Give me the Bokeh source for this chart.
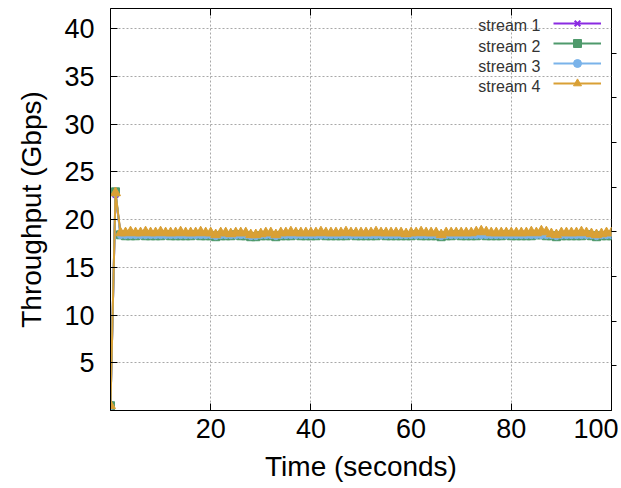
from bokeh.plotting import figure
from bokeh.models import (Range1d, LinearAxis, FixedTicker, Legend, LegendItem,
                          Label, ColumnDataSource)
from bokeh.embed import file_html
from bokeh.resources import INLINE

# ---------------- data ----------------
time_s = [0, 1, 2, 3, 4, 5, 6, 7, 8, 9,
          10, 11, 12, 13, 14, 15, 16, 17, 18, 19,
          20, 21, 22, 23, 24, 25, 26, 27, 28, 29,
          30, 31, 32, 33, 34, 35, 36, 37, 38, 39,
          40, 41, 42, 43, 44, 45, 46, 47, 48, 49,
          50, 51, 52, 53, 54, 55, 56, 57, 58, 59,
          60, 61, 62, 63, 64, 65, 66, 67, 68, 69,
          70, 71, 72, 73, 74, 75, 76, 77, 78, 79,
          80, 81, 82, 83, 84, 85, 86, 87, 88, 89,
          90, 91, 92, 93, 94, 95, 96, 97, 98, 99,
          100]

stream1 = [0.6, 22.6, 18.5, 18.4, 18.4, 18.5, 18.4, 18.4, 18.4, 18.5,
           18.4, 18.4, 18.5, 18.4, 18.4, 18.4, 18.5, 18.4, 18.4, 18.4,
           18.4, 18.3, 18.4, 18.4, 18.4, 18.4, 18.5, 18.4, 18.3, 18.3,
           18.4, 18.4, 18.4, 18.3, 18.4, 18.5, 18.4, 18.4, 18.4, 18.4,
           18.5, 18.4, 18.4, 18.4, 18.4, 18.5, 18.4, 18.4, 18.4, 18.4,
           18.4, 18.5, 18.4, 18.4, 18.4, 18.4, 18.4, 18.5, 18.4, 18.4,
           18.4, 18.4, 18.5, 18.4, 18.4, 18.4, 18.3, 18.4, 18.4, 18.4,
           18.4, 18.5, 18.4, 18.4, 18.5, 18.5, 18.4, 18.4, 18.4, 18.4,
           18.4, 18.4, 18.5, 18.4, 18.4, 18.4, 18.5, 18.5, 18.4, 18.3,
           18.4, 18.4, 18.4, 18.5, 18.4, 18.4, 18.4, 18.3, 18.4, 18.4,
           18.4]

stream2 = [0.5, 22.9, 18.4, 18.3, 18.3, 18.3, 18.4, 18.3, 18.3, 18.3,
           18.3, 18.4, 18.3, 18.3, 18.3, 18.3, 18.3, 18.4, 18.3, 18.3,
           18.3, 18.2, 18.3, 18.3, 18.3, 18.4, 18.3, 18.3, 18.2, 18.2,
           18.3, 18.3, 18.3, 18.2, 18.3, 18.3, 18.3, 18.4, 18.3, 18.3,
           18.3, 18.3, 18.4, 18.3, 18.3, 18.3, 18.3, 18.3, 18.4, 18.3,
           18.3, 18.3, 18.3, 18.3, 18.4, 18.3, 18.3, 18.3, 18.3, 18.3,
           18.3, 18.4, 18.3, 18.3, 18.3, 18.3, 18.2, 18.3, 18.3, 18.4,
           18.3, 18.3, 18.3, 18.3, 18.4, 18.3, 18.3, 18.3, 18.3, 18.4,
           18.3, 18.3, 18.3, 18.3, 18.3, 18.4, 18.4, 18.3, 18.3, 18.2,
           18.3, 18.3, 18.3, 18.3, 18.3, 18.4, 18.3, 18.2, 18.3, 18.3,
           18.3]

stream3 = [0.4, 22.7, 18.3, 18.3, 18.3, 18.3, 18.3, 18.3, 18.3, 18.3,
           18.3, 18.3, 18.3, 18.3, 18.3, 18.3, 18.3, 18.3, 18.3, 18.3,
           18.3, 18.2, 18.3, 18.3, 18.3, 18.3, 18.3, 18.3, 18.2, 18.2,
           18.3, 18.3, 18.3, 18.2, 18.3, 18.3, 18.3, 18.3, 18.3, 18.3,
           18.3, 18.3, 18.3, 18.3, 18.3, 18.3, 18.3, 18.3, 18.3, 18.3,
           18.3, 18.3, 18.3, 18.3, 18.3, 18.3, 18.3, 18.3, 18.3, 18.3,
           18.3, 18.3, 18.3, 18.3, 18.3, 18.3, 18.2, 18.3, 18.3, 18.3,
           18.3, 18.3, 18.3, 18.3, 18.3, 18.3, 18.3, 18.3, 18.3, 18.3,
           18.3, 18.3, 18.3, 18.3, 18.3, 18.3, 18.3, 18.3, 18.3, 18.2,
           18.3, 18.3, 18.3, 18.3, 18.3, 18.3, 18.3, 18.2, 18.3, 18.3,
           18.3]

stream4 = [0.5, 22.8, 18.6, 18.6, 18.7, 18.6, 18.6, 18.7, 18.6, 18.6,
           18.7, 18.6, 18.6, 18.6, 18.7, 18.6, 18.6, 18.6, 18.7, 18.6,
           18.6, 18.4, 18.6, 18.6, 18.5, 18.6, 18.6, 18.6, 18.4, 18.4,
           18.5, 18.6, 18.6, 18.4, 18.6, 18.6, 18.7, 18.6, 18.6, 18.6,
           18.6, 18.6, 18.7, 18.6, 18.6, 18.6, 18.6, 18.7, 18.6, 18.6,
           18.6, 18.6, 18.6, 18.7, 18.6, 18.6, 18.6, 18.6, 18.6, 18.5,
           18.6, 18.6, 18.7, 18.6, 18.6, 18.6, 18.4, 18.6, 18.6, 18.6,
           18.6, 18.6, 18.6, 18.7, 18.8, 18.7, 18.6, 18.6, 18.6, 18.6,
           18.6, 18.6, 18.6, 18.6, 18.7, 18.6, 18.8, 18.7, 18.5, 18.4,
           18.6, 18.6, 18.6, 18.6, 18.7, 18.6, 18.5, 18.4, 18.5, 18.6,
           18.6]

series_names = ["stream 1", "stream 2", "stream 3", "stream 4"]
series_values = [stream1, stream2, stream3, stream4]
series_colors = ["#8a2be2", "#4f9a6c", "#7ab3ea", "#d9a035"]
series_markers = ["x", "square", "circle", "triangle"]
marker_sizes = [8, 8, 6, 10]

x_ticks = [20, 40, 60, 80, 100]
y_ticks = [5, 10, 15, 20, 25, 30, 35, 40]
y2_ticks = [1, 2, 3, 4, 5, 6, 7, 8]

FONT = "Liberation Sans"

# ---------------- figure ----------------
p = figure(width=618, height=488, output_backend="svg", toolbar_location=None,
           x_range=Range1d(0, 100), y_range=Range1d(0, 42.1),
           min_border_left=110, min_border_right=7, min_border_top=8,
           min_border_bottom=78, x_axis_label="Time (seconds)",
           y_axis_label="Throughput (Gbps)")
p.background_fill_color = "white"
p.border_fill_color = "white"
p.outline_line_color = "black"
p.outline_line_width = 1

p.extra_y_ranges = {"y2": Range1d(0, 9)}

# grid
for g, t in ((p.xgrid, x_ticks), (p.ygrid, y_ticks)):
    g.ticker = FixedTicker(ticks=t)
    g.grid_line_color = "#a8a8a8"
    g.grid_line_dash = "2 2"
    g.grid_line_width = 1

xa = p.xaxis[0]
xa.ticker = FixedTicker(ticks=x_ticks)
ya = p.yaxis[0]
ya.ticker = FixedTicker(ticks=y_ticks)

for ax in (xa, ya):
    ax.major_tick_in = 7
    ax.major_tick_out = 0
    ax.minor_tick_line_color = None
    ax.major_tick_line_color = "black"
    ax.axis_line_color = "black"
    ax.major_label_text_font = FONT
    ax.major_label_text_font_size = "27px"
    ax.major_label_text_color = "black"
    ax.axis_label_text_font = FONT
    ax.axis_label_text_font_size = "28px"
    ax.axis_label_text_font_style = "normal"
    ax.axis_label_text_color = "black"

xa.major_label_standoff = 8
xa.axis_label_standoff = 10
ya.major_label_standoff = 16
ya.axis_label_standoff = 14

# top mirrored ticks (no labels)
top = LinearAxis(ticker=FixedTicker(ticks=x_ticks), major_tick_in=7, major_tick_out=0,
                 minor_tick_line_color=None, axis_line_color=None,
                 major_label_overrides={t: "" for t in x_ticks},
                 major_label_standoff=0)
p.add_layout(top, "above")

# right y2 axis: outside ticks, no labels
right = LinearAxis(y_range_name="y2", ticker=FixedTicker(ticks=y2_ticks),
                   major_tick_in=0, major_tick_out=5, minor_tick_line_color=None,
                   axis_line_color=None,
                   major_label_overrides={t: "" for t in y2_ticks},
                   major_label_standoff=0)
p.add_layout(right, "right")

# ---------------- series ----------------
items = []
for name, vals, col, mk, ms in zip(series_names, series_values, series_colors,
                                   series_markers, marker_sizes):
    src = ColumnDataSource(dict(t=time_s, v=vals))
    ln = p.line("t", "v", source=src, line_color=col, line_width=2)
    sc = p.scatter("t", "v", source=src, marker=mk, size=ms, line_color=col,
                   fill_color=col, line_width=2 if mk == "x" else 1)
    items.append(LegendItem(label=" ", renderers=[ln, sc]))

legend = Legend(items=items, location="top_right", margin=5, padding=7, spacing=0,
                glyph_width=48, glyph_height=20, label_width=0, label_height=0,
                label_standoff=5, label_text_font_size="1px",
                border_line_color=None, background_fill_alpha=0)
p.add_layout(legend)

# legend texts (text left of samples, gnuplot style)
legend_rows_y = [385, 364, 344, 324]
for name, yy in zip(series_names, legend_rows_y):
    p.add_layout(Label(x=430, y=yy, x_units="screen", y_units="screen", text=name,
                       text_align="right", text_baseline="middle", text_font=FONT,
                       text_font_size="16px", text_color="#333333"))

open("out.html", "w").write(file_html(p, INLINE))
